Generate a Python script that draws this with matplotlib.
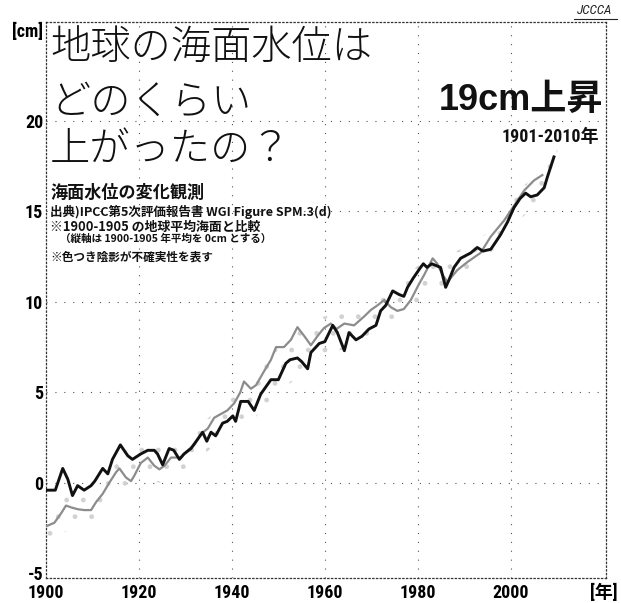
import matplotlib
matplotlib.use("Agg")
import matplotlib.pyplot as plt
from matplotlib.lines import Line2D
from matplotlib import font_manager

# ---------------- data ----------------
black_years = [1900, 1902, 1903.6, 1904.7, 1905.7, 1906.8, 1908.2, 1909.7, 1910.5, 1912.2,
               1913.3, 1914.3, 1916.0, 1917.6, 1918.6, 1920.4, 1921.9, 1923.3, 1924.0, 1925.1,
               1926.5, 1927.5, 1928.7, 1929.7, 1931.2, 1932.6, 1933.7, 1934.6, 1935.5, 1936.5,
               1938.0, 1939.0, 1940.2, 1940.8, 1941.9, 1943.5, 1944.8, 1946.2, 1948.4, 1950.0,
               1951.6, 1952.5, 1954.1, 1955.0, 1956.3, 1957.0, 1958.8, 1960.0, 1961.7, 1962.7,
               1964.2, 1965.2, 1966.7, 1968.0, 1969.5, 1971.0, 1972.0, 1973.1, 1974.6, 1976.0,
               1977.0, 1977.8, 1979.0, 1980.6, 1981.2, 1982.0, 1983.0, 1984.9, 1986.0, 1986.7,
               1987.8, 1989.2, 1991.4, 1992.8, 1994.0, 1995.7, 1996.5, 1997.8, 1999.3, 2000.7,
               2002.0, 2003.2, 2004.3, 2005.7, 2007.2, 2007.9, 2009.3]
black_cm = [-0.4, -0.4, 0.8, 0.2, -0.7, -0.15, -0.4, -0.15, 0.1, 0.8,
            0.5, 1.3, 2.1, 1.5, 1.3, 1.6, 1.8, 1.8, 1.6, 1.0,
            1.9, 1.8, 1.3, 1.6, 1.9, 2.4, 2.8, 2.3, 2.8, 2.6,
            3.3, 3.4, 3.7, 3.4, 4.5, 4.5, 4.0, 4.9, 5.7, 5.7,
            6.6, 6.8, 6.9, 6.7, 6.3, 7.2, 7.7, 7.8, 8.7, 8.3,
            7.3, 8.3, 7.9, 8.1, 8.5, 8.7, 9.5, 9.8, 10.6, 10.4,
            10.3, 10.8, 11.3, 11.9, 12.1, 11.9, 12.1, 11.9, 10.8, 11.2,
            11.9, 12.4, 12.7, 13.0, 12.8, 12.9, 13.2, 13.7, 14.4, 15.2,
            15.7, 16.0, 15.8, 15.9, 16.3, 16.9, 18.0]

gray_years = [1900, 1901.8, 1903.2, 1904.3, 1905.4, 1906.8, 1908.2, 1909.7, 1910.8, 1912.2,
              1913.6, 1915.1, 1915.8, 1917.2, 1918.3, 1919.0, 1920.4, 1921.9, 1923.3, 1924.4,
              1925.5, 1926.9, 1929.0, 1930.5, 1931.9, 1933.3, 1934.8, 1936.2, 1937.6, 1939.0,
              1940.5, 1941.8, 1942.6, 1944.1, 1945.2, 1947.0, 1948.4, 1949.5, 1951.2, 1952.7,
              1954.1, 1955.6, 1957.0, 1958.4, 1959.8, 1961.3, 1962.5, 1964.2, 1966.3, 1968.5,
              1969.9, 1971.3, 1972.8, 1974.2, 1975.6, 1977.0, 1978.5, 1980.3, 1981.4, 1983.2,
              1984.2, 1985.3, 1986.4, 1988.5, 1990.7, 1993.5, 1995.7, 1998.6, 2000.7, 2002.9,
              2005.0, 2006.8]
gray_cm = [-2.4, -2.2, -1.7, -1.25, -1.35, -1.45, -1.5, -1.5, -1.05, -0.6,
           0.0, 0.6, 0.8, 0.3, 0.1, 0.4, 1.1, 1.4, 0.95, 0.75,
           0.95, 1.4, 1.4, 1.8, 2.1, 2.7, 3.0, 3.6, 3.8, 4.0,
           4.4, 5.0, 5.6, 5.2, 5.4, 6.2, 6.8, 7.5, 7.5, 7.9,
           8.6, 8.1, 7.6, 8.1, 8.55, 8.8, 8.5, 8.8, 8.7, 9.2,
           9.55, 9.8, 10.1, 9.7, 9.5, 9.6, 10.1, 11.0, 11.5, 12.4,
           12.1, 11.5, 11.1, 11.75, 12.2, 12.7, 13.6, 14.5, 15.3, 16.15,
           16.7, 17.0]

band_years = [1900, 1905, 1910, 1915, 1920, 1925, 1930, 1935, 1940, 1945, 1950, 1955,
              1960, 1965, 1970, 1975, 1980, 1985, 1990, 1995, 2000, 2005, 2010]
band_low = [-3.2, -2.6, -2.4, -0.6, 0.2, 0.0, 0.8, 1.8, 3.0, 3.6, 5.0, 6.0,
            7.2, 7.4, 8.2, 9.0, 10.0, 10.6, 11.5, 12.5, 14.0, 15.3, 17.0]
band_high = [-1.4, -0.6, -0.5, 1.4, 2.2, 2.2, 2.6, 3.6, 4.8, 5.8, 7.6, 8.8,
             9.2, 9.4, 10.0, 10.8, 12.0, 12.4, 13.0, 13.8, 15.6, 17.0, 18.4]

x_ticks = [1900, 1920, 1940, 1960, 1980, 2000, 2020]
x_tick_labels = ["1900", "1920", "1940", "1960", "1980", "2000", "[年]"]
y_ticks = [-5, 0, 5, 10, 15, 20, 25]
y_tick_labels = ["-5", "0", "5", "10", "15", "20", "[cm]"]

title_lines = ["地球の海面水位は", "どのくらい", "上がったの？"]
headline = "19cm上昇"
period = "1901-2010年"
subtitle = "海面水位の変化観測"
notes = ["出典)IPCC第5次評価報告書 WGI Figure SPM.3(d)",
         "※1900-1905 の地球平均海面と比較",
         "（縦軸は 1900-1905 年平均を 0cm とする）",
         "※色つき陰影が不確実性を表す"]

# ---------------- fonts ----------------
installed = {f.name for f in font_manager.fontManager.ttflist}
narrow_name = None
for cand in ["Liberation Sans Narrow", "Arial Narrow", "Roboto Condensed",
             "Open Sans Condensed", "DejaVu Sans Condensed"]:
    if cand in installed:
        narrow_name = cand
        break
if narrow_name is None:
    narrow_name = "Liberation Sans"
    tick_fs = 11.5
    period_fs = 11.5
else:
    tick_fs = 13
    period_fs = 13

narrow = [narrow_name, "DejaVu Sans"]
cjk = ["Noto Sans CJK JP", "DejaVu Sans"]
latin_cjk = ["Liberation Sans", "Noto Sans CJK JP"]
narrow_cjk = [narrow_name, "Noto Sans CJK JP"]

# ---------------- figure ----------------
W, H = 621, 603
fig = plt.figure(figsize=(W / 100, H / 100), dpi=100)
fig.patch.set_facecolor("white")

ax = fig.add_axes([46 / W, 1 - 578 / H, 560 / W, 556 / H])
ax.set_xlim(1900, 2020.5)
ax.set_ylim(-5.25, 25.45)

ax.fill_between(band_years, band_low, band_high, facecolor="none",
                edgecolor="#d2d2d2", hatch=".", linewidth=0, zorder=1)
ax.plot(gray_years, gray_cm, color="#8c8c8c", lw=1.6, zorder=3)
ax.plot(black_years, black_cm, color="#111111", lw=2.1, zorder=4)

ax.set_xticks(x_ticks)
ax.set_xticklabels(x_tick_labels, fontfamily=narrow_cjk, fontweight="bold", fontsize=tick_fs)
ax.set_yticks(y_ticks)
ax.set_yticklabels(y_tick_labels, fontfamily=narrow, fontweight="bold", fontsize=tick_fs)
ax.tick_params(axis="y", length=0, pad=2)
ax.tick_params(axis="x", length=0, pad=4)

for x in x_ticks[1:-1]:
    ax.axvline(x, color="#555555", lw=0.8, ls=(0, (1, 7)), zorder=0)
for y in y_ticks[1:-1]:
    ax.axhline(y, color="#555555", lw=0.8, ls=(0, (1, 7)), zorder=0)

for s in ax.spines.values():
    s.set_linestyle((0, (1, 2)))
    s.set_linewidth(0.9)
    s.set_color("#333333")

# ---------------- texts ----------------
def fx(px):
    return px / W

def fy(py):
    return 1 - py / H

for line, py in zip(title_lines, [48, 103, 150]):
    fig.text(fx(50), fy(py), line, fontfamily=cjk, fontweight="light",
             fontsize=29, va="center", ha="left", color="#111111")

fig.text(fx(603), fy(100), headline, fontfamily=latin_cjk, fontweight="bold",
         fontsize=26, ha="right", va="center", color="#111111")
fig.text(fx(599), fy(137), period, fontfamily=narrow_cjk, fontweight="bold",
         fontsize=period_fs, ha="right", va="center", color="#111111")

fig.text(fx(50), fy(193), subtitle, fontfamily=cjk, fontweight="bold",
         fontsize=12.3, ha="left", va="center", color="#111111")
note_specs = [(50, 212, 9.0), (50, 227, 9.3), (60, 239, 7.6), (50, 257, 8.4)]
for txt, (px, py, fs) in zip(notes, note_specs):
    fig.text(fx(px), fy(py), txt, fontfamily=cjk, fontweight="bold",
             fontsize=fs, ha="left", va="center", color="#111111")

fig.text(fx(595), fy(11), "JCCCA", fontfamily=narrow, fontsize=9.5,
         fontstyle="italic", ha="center", va="center", color="#222222")
fig.add_artist(Line2D([fx(574), fx(617)], [fy(19), fy(19)], color="#222222", lw=0.8))

fig.savefig("out.png", dpi=100, facecolor="white")
